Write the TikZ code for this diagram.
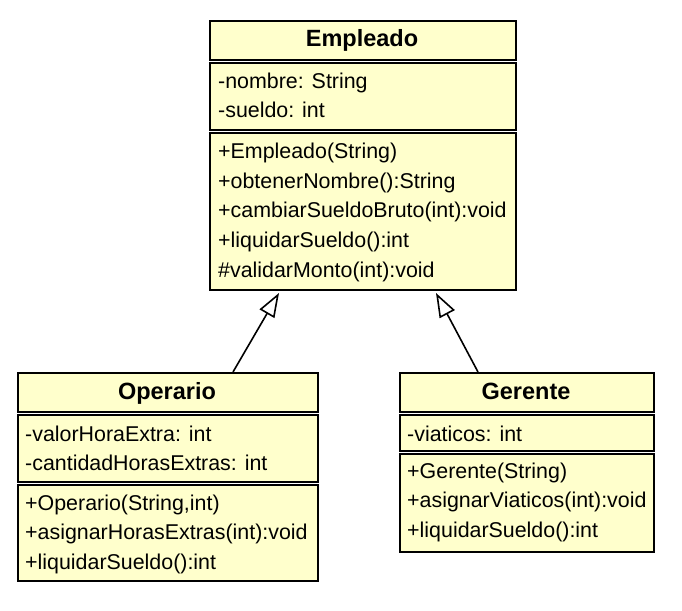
\documentclass[tikz,border=0pt]{standalone}
\usepackage{fontspec}
\setmainfont{Liberation Sans}
\usetikzlibrary{arrows.meta}
\definecolor{umlfill}{HTML}{FFFFCC}
\tikzset{
  comp/.style={draw=black, fill=umlfill, line width=2pt, rectangle, inner sep=0pt, anchor=north west},
  ttl/.style={font=\fontsize{23.5}{28}\selectfont\bfseries, inner sep=0pt, anchor=base},
  mem/.style={font=\fontsize{21.4}{30}\selectfont, inner sep=0pt, anchor=base west},
  inh/.style={line width=1.6pt, -{Triangle[open, length=24pt, width=17pt, line width=1.6pt]}}
}
\begin{document}
\begin{tikzpicture}[x=1pt, y=-1pt]
\useasboundingbox (0,0) rectangle (682,610);
% Empleado
\node[comp, minimum width=306pt, minimum height=39pt] (emp-t) at (209,20) {};
\node[comp, minimum width=306pt, minimum height=66.5pt] (emp-a) at (209,62) {};
\node[comp, minimum width=306pt, minimum height=157.5pt] (emp-m) at (209,131.5) {};
\node[ttl] (emp-n) at (362,47) {Empleado};
\node[mem] (emp-a1) at (218,88) {-nombre: String};
\node[mem] (emp-a2) at (218,117.5) {-sueldo: int};
\node[mem] (emp-m1) at (218,158) {+Empleado(String)};
\node[mem] (emp-m2) at (218,188) {+obtenerNombre():String};
\node[mem] (emp-m3) at (218,217.5) {+cambiarSueldoBruto(int):void};
\node[mem] (emp-m4) at (218,247.5) {+liquidarSueldo():int};
\node[mem] (emp-m5) at (218,277) {\#validarMonto(int):void};
% Operario
\node[comp, minimum width=300pt, minimum height=39pt] (op-t) at (17,372) {};
\node[comp, minimum width=300pt, minimum height=67pt] (op-a) at (17,414) {};
\node[comp, minimum width=300pt, minimum height=96pt] (op-m) at (17,484) {};
\node[ttl] (op-n) at (167,399) {Operario};
\node[mem] (op-a1) at (25,441) {-valorHoraExtra: int};
\node[mem] (op-a2) at (25,470.5) {-cantidadHorasExtras: int};
\node[mem] (op-m1) at (25,510) {+Operario(String,int)};
\node[mem] (op-m2) at (25,539.5) {+asignarHorasExtras(int):void};
\node[mem] (op-m3) at (25,569) {+liquidarSueldo():int};
% Gerente
\node[comp, minimum width=254pt, minimum height=39pt] (ge-t) at (399,372) {};
\node[comp, minimum width=254pt, minimum height=35.5pt] (ge-a) at (399,414) {};
\node[comp, minimum width=254pt, minimum height=98.5pt] (ge-m) at (399,452.5) {};
\node[ttl] (ge-n) at (526,399) {Gerente};
\node[mem] (ge-a1) at (407,441) {-viaticos: int};
\node[mem] (ge-m1) at (407,478) {+Gerente(String)};
\node[mem] (ge-m2) at (407,507.5) {+asignarViaticos(int):void};
\node[mem] (ge-m3) at (407,537) {+liquidarSueldo():int};
% Inheritance
\draw[inh] ([xshift=65pt]op-t.north) -- ([xshift=-84pt, yshift=-2pt]emp-m.south);
\draw[inh] ([xshift=-49pt]ge-t.north) -- ([xshift=73pt, yshift=-2pt]emp-m.south);
\end{tikzpicture}
\end{document}
